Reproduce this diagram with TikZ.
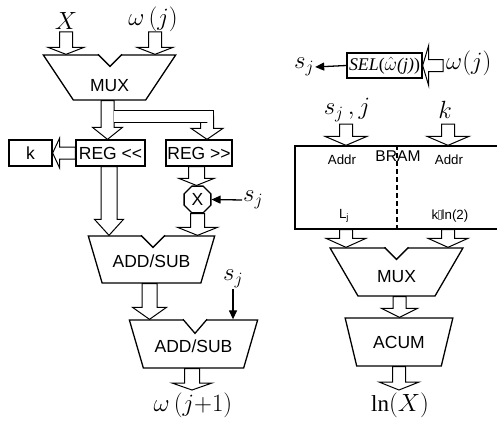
\documentclass[tikz,border=0pt]{standalone}
\usepackage{amsmath}
\usepackage{fontspec}
\setmainfont{Liberation Serif}
\setsansfont{Liberation Sans}
\newfontfamily\blkfont{Liberation Sans}
\usetikzlibrary{positioning,calc}
\usetikzlibrary{arrows.meta,shapes.geometric}
\tikzset{
  bw/.store in=\bw, bhw/.store in=\bhw, bhl/.store in=\bhl,
  bw=6.5pt, bhw=19pt, bhl=9pt,
  bus/.style={draw=black,fill=white,line width=1pt,line join=miter,
    to path={($(\tikztostart)!\bw!90:(\tikztotarget)$)
      -- ($(\tikztotarget)!\bhl!(\tikztostart)!\bw!90:(\tikztotarget)$)
      -- ($(\tikztotarget)!\bhl!(\tikztostart)!\bhw!90:(\tikztotarget)$)
      -- (\tikztotarget)
      -- ($(\tikztotarget)!\bhl!(\tikztostart)!\bhw!-90:(\tikztotarget)$)
      -- ($(\tikztotarget)!\bhl!(\tikztostart)!\bw!-90:(\tikztotarget)$)
      -- ($(\tikztostart)!\bw!-90:(\tikztotarget)$) -- cycle}},
  busline/.style={draw=black,line width=1pt,double=white,double distance=11pt},
  blk/.style={draw=black,line width=1.3pt},
  btxt/.style={font=\blkfont\fontsize{17.5}{19}\selectfont,inner sep=0pt},
  stxt/.style={font=\blkfont\fontsize{13.3}{15}\selectfont,inner sep=0pt},
  reg/.style={blk,btxt,rectangle,minimum height=26pt},
  trap/.style={blk,btxt,trapezium,trapezium stretches=true,shape border rotate=180,text depth=0pt},
  lbl/.style={font=\fontsize{23}{25}\selectfont,inner sep=1pt},
  sig/.style={line width=1.3pt,-{Triangle[length=9pt,width=8pt]}},
}
\newcommand{\notch}[3]{%
  \draw[white,line width=2.6pt] ([xshift=#2-11pt]#1.north) -- ([xshift=#2+11pt]#1.north);
  \draw[blk] ([xshift=#2-12pt]#1.north) -- ([xshift=#2,yshift=-#3]#1.north) -- ([xshift=#2+12pt]#1.north);}

\begin{document}
\begin{tikzpicture}[x=1pt,y=-1pt]
\useasboundingbox (0,0) rectangle (497,420);
% left datapath
\node[lbl] (xlbl) at (66,21) {$X$};
\node[lbl] (wlbl) at (153,19) {$\omega\,(j)$};
\coordinate (xin) at (66,32);
\coordinate (win) at (155,32);
\node[trap,minimum width=133pt,minimum height=45pt,trapezium angle=60.5,text height=28.5pt] (mux1) at (109.5,77.5) {MUX};
\node[reg,minimum width=69pt] (regl) at (110.5,153) {REG <{}<};
\node[reg,minimum width=66pt] (regr) at (199,153) {REG >{}>};
\node[reg,minimum width=43pt] (kbox) at (30.5,153) {k};
\node[blk,btxt,regular polygon,regular polygon sides=8,minimum size=29pt] (xmul) at (197.5,199.5) {X};
\node[lbl,anchor=west] (sjx) at (242,200) {$s_j$};
\node[trap,minimum width=127pt,minimum height=47pt,trapezium angle=56.6,text height=16.5pt] (add1) at (151.5,259.5) {ADD/SUB};
\node[lbl] (sja) at (233,279) {$s_j$};
\node[trap,minimum width=129pt,minimum height=48pt,trapezium angle=56.7,text height=16.5pt] (add2) at (193.5,344) {ADD/SUB};
\node[lbl] (wout) at (193,405) {$\omega\,(j{+}1)$};
\coordinate (oa) at (192,390);
\notch{mux1}{0.5pt}{12pt}
\notch{add1}{1.5pt}{12pt}
\notch{add2}{1.5pt}{14pt}
\draw[bus,bhw=18pt,bhl=7pt] (xin) to (xin |- mux1.north);
\draw[bus,bhw=18pt,bhl=7pt] (win) to (win |- mux1.north);
\draw[bus,bhw=15pt,bhl=12pt] ([xshift=-2pt]mux1.south) to ([xshift=-2pt]mux1.south |- regl.north);
\coordinate (brk) at (207,116);
\coordinate (brj) at (113.5,116);
\draw[bus,bhw=16pt,bhl=11pt] (brk) to (brk |- regr.north);
\draw[busline] (brj) -| ([yshift=-6pt]brk);
\draw[bus,bw=6pt,bhw=15pt,bhl=7pt] (regl.west) to (kbox.east);
\draw[bus,bw=8pt,bhw=14.5pt,bhl=16pt] ([xshift=-1.5pt]regl.south) to ([xshift=-1.5pt]regl.south |- add1.north);
\draw[bus,bw=8pt,bhw=17.5pt,bhl=7pt] ([xshift=-2.5pt]regr.south) to ([xshift=-2.5pt]regr.south |- xmul.north);
\draw[bus,bw=7pt,bhw=20pt,bhl=8pt] (xmul.south) to (xmul.south |- add1.north);
\draw[sig] (sjx.west) -- (xmul.east);
\draw[bus,bw=7.5pt,bhw=17pt,bhl=12pt] ([xshift=-2pt]add1.south) to ([xshift=-2pt]add1.south |- add2.north);
\draw[sig] (sja.south) -- (sja.south |- add2.north);
\draw[bus,bw=7.5pt,bhw=20pt,bhl=7pt] (add2.south -| oa) to (oa);
% right datapath
\node[blk,rectangle,minimum width=75pt,minimum height=25pt,inner sep=1pt,
  font=\fontsize{16}{18}\selectfont] (sel) at (384.5,65.5)
  {\resizebox{71pt}{!}{\textit{SEL}($\hat{\omega}$\textit{(j)})}};
\node[lbl] (sjs) at (304,67) {$s_j$};
\node[lbl,anchor=west] (wsel) at (445,63) {$\omega(j)$};
\coordinate (wsin) at (443,65.5);
\draw[sig] (sel.west) -- (sjs.east);
\draw[bus,bw=6pt,bhw=20pt,bhl=6pt] (wsin) to (sel.east);
\node[lbl] (sjj) at (347,110) {$s_j\,,j$};
\node[lbl] (kin) at (445,110) {$k$};
\coordinate (ba) at (346,124);
\coordinate (bb) at (448,124);
\node[blk,rectangle,minimum width=204pt,minimum height=83pt] (bram) at (397,187.5) {};
\draw[blk,dash pattern=on 5pt off 3pt] (bram.north) -- (bram.south);
\node[btxt,font=\blkfont\fontsize{15.6}{17}\selectfont] (bramt) at (398,156.5) {BRAM};
\node[stxt] (addra) at (342,160) {Addr};
\node[stxt] (addrb) at (449,160) {Addr};
\node[stxt] (lj) at (344,216) {L\textsubscript{j}};
\node[stxt] (kln) at (450,216)
  {k{\color{gray}\fboxsep=0pt\fboxrule=0.4pt\fbox{\rule{0pt}{9pt}\hspace{2.5pt}}}ln(2)};
\node[trap,minimum width=133pt,minimum height=48pt,trapezium angle=55.5,text height=20.5pt] (mux2) at (396.5,272) {MUX};
\node[trap,minimum width=108pt,minimum height=48pt,trapezium angle=60.6,text height=12.5pt] (acum) at (399,342) {ACUM};
\node[lbl] (lnx) at (400,405) {$\ln(X)$};
\coordinate (ob) at (399,390);
\notch{mux2}{0pt}{12pt}
\draw[bus,bhw=21pt,bhl=9pt] (ba) to (ba |- bram.north);
\draw[bus,bhw=21pt,bhl=9pt] (bb) to (bb |- bram.north);
\draw[bus,bhw=20pt,bhl=9pt] (bram.south -| ba) to (ba |- mux2.north);
\draw[bus,bhw=20pt,bhl=9pt] (bram.south -| bb) to (bb |- mux2.north);
\draw[bus,bhw=18pt,bhl=9pt] ([xshift=3pt]mux2.south) to ([xshift=3pt]mux2.south |- acum.north);
\draw[bus,bhw=20pt,bhl=8pt] (acum.south) to (ob);
\end{tikzpicture}
\end{document}
